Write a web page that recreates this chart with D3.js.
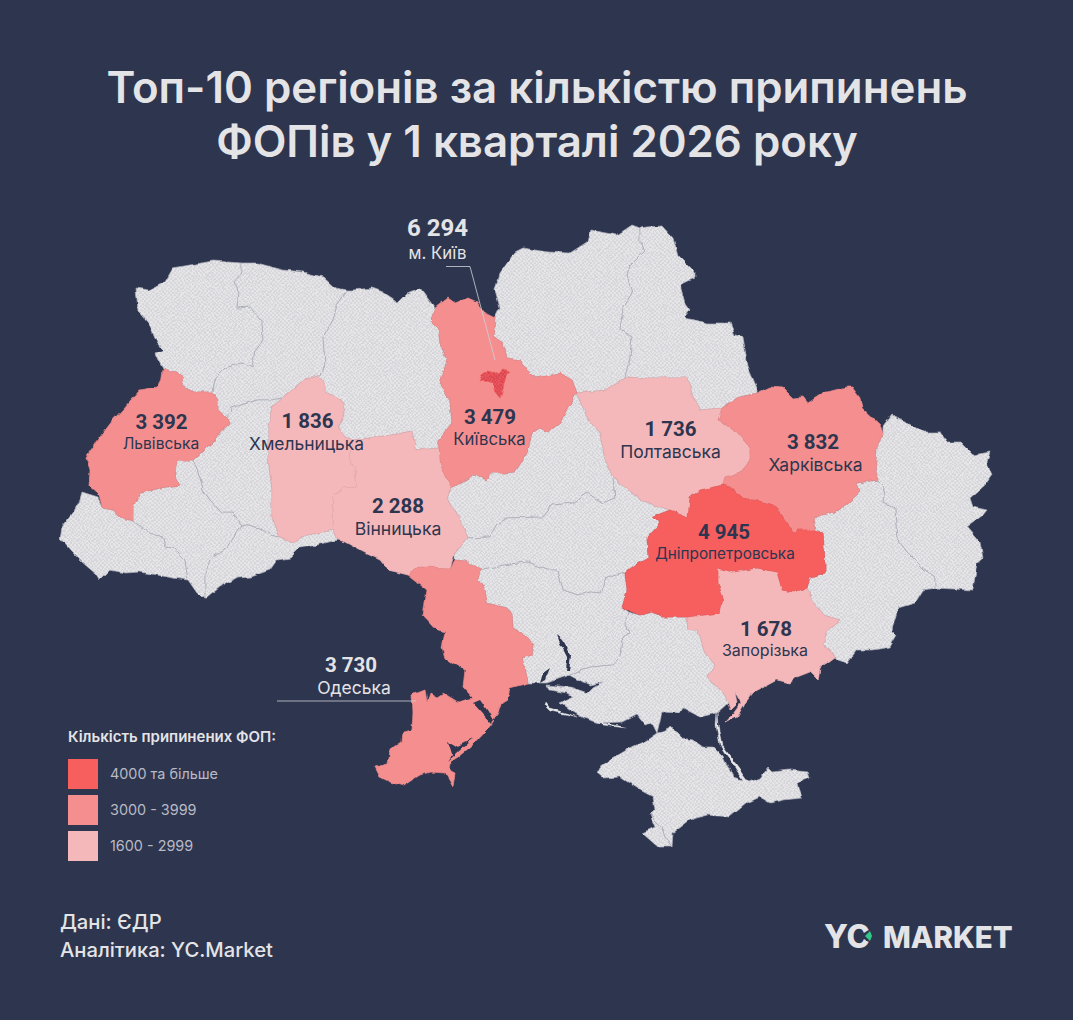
<!DOCTYPE html>
<html lang="uk">
<head>
<meta charset="utf-8">
<title>Топ-10 регіонів</title>
<script src="https://cdn.jsdelivr.net/npm/d3@7"></script>
<style>
html,body{margin:0;padding:0;background:#2d354f}
svg{display:block}
text{font-family:Inter,"Noto Sans",sans-serif}
text.val{font-family:Roboto,Inter,sans-serif}
</style>
</head>
<body>
<svg id="chart" width="1073" height="1020"></svg>
<script>
// ---------- Data: regional outlines (lon, lat) ----------
const volyn=[[23.72,51.6],[24,51.575],[24.3,51.675],[24.46,51.85],[24.8,51.8875],[25.26,51.9375],[25.84,51.9125],[25.84,51.7875],[25.68,51.675],[25.78,51.55],[25.74,51.35],[26,51.3625],[26.24,51.175],[26.26,50.95],[26.1,50.825],[26.04,50.6],[25.84,50.6625],[25.5,50.6],[25.3,50.475],[25.26,50.3875],[25.24,50.3],[24.86,50.3],[24.64,50.3875],[24.68,50.475],[24.5,50.55],[24.26,50.5875],[24.16,50.7],[24.1,50.7875],[24.26,50.825],[24.14,50.9125],[23.96,51.175],[23.76,51.325]];
const rivne=[[25.84,51.9125],[26.14,51.9125],[26.66,51.825],[27.06,51.8],[27.46,51.7375],[27.7,51.6],[27.96,51.575],[27.74,51.3875],[27.66,51.2],[27.46,50.9875],[27.5,50.6625],[27.4,50.5125],[27.34,50.5125],[27,50.4125],[26.66,50.225],[26.44,50.2],[26.14,50.2],[25.64,50.1],[25.54,49.975],[25.36,50.075],[25.36,50.2],[25.24,50.3],[25.26,50.3875],[25.3,50.475],[25.5,50.6],[25.84,50.6625],[26.04,50.6],[26.1,50.825],[26.26,50.95],[26.24,51.175],[26,51.3625],[25.74,51.35],[25.78,51.55],[25.68,51.675],[25.84,51.7875]];
const lviv=[[24.26,50.5875],[24.5,50.55],[24.68,50.475],[24.64,50.3875],[24.86,50.3],[25.24,50.3],[25.36,50.2],[25.36,50.075],[25.54,49.975],[25.6,49.9125],[25.4,49.8],[25.26,49.675],[25.14,49.6125],[24.86,49.45],[24.56,49.45],[24.5,49.2375],[24.58,49.1375],[24.2,49.1],[23.8,49.0375],[23.66,48.8625],[23.66,48.6875],[23.44,48.725],[23.24,48.825],[23.06,48.85],[22.96,49.0375],[22.78,49.1375],[22.8,49.325],[22.72,49.4875],[23,49.7375],[23.26,49.95],[23.8,50.325],[24.14,50.3625],[24.24,50.4875]];
const ternopil=[[26.44,50.2],[26.14,50.2],[25.64,50.1],[25.54,49.975],[25.6,49.9125],[25.4,49.8],[25.26,49.675],[25.14,49.6125],[24.86,49.45],[25,49.2375],[25.06,49.075],[25.2,48.95],[25.44,48.7875],[25.66,48.7875],[25.84,48.6375],[26.2,48.6],[26.4,48.5125],[26.6,48.4875],[26.44,48.7375],[26.44,49.075],[26.36,49.4875],[26.36,49.8625],[26.44,50.1125],[26.66,50.225]];
const frankivsk=[[23.66,48.6875],[23.66,48.8625],[23.8,49.0375],[24.2,49.1],[24.58,49.1375],[24.5,49.2375],[24.56,49.45],[24.86,49.45],[25,49.2375],[25.06,49.075],[25.2,48.95],[25.44,48.7875],[25.66,48.7875],[25.84,48.6375],[25.54,48.3625],[25.2,48.2],[25.1,48.0125],[25.1,47.725],[24.94,47.7875],[24.76,47.95],[24.7,48.2],[24.46,48.35],[24.3,48.3625],[24.26,48.4875],[24,48.5375]];
const zakarpattia=[[22.64,49.0375],[22.96,48.975],[23.06,48.85],[23.24,48.825],[23.44,48.725],[23.66,48.6875],[24,48.5375],[24.26,48.4875],[24.3,48.3625],[24.46,48.35],[24.7,48.2],[24.76,47.95],[24.46,47.975],[24.14,48.0125],[23.8,48.05],[23.5,48.0375],[23.2,48.075],[23,47.95],[22.94,48.0125],[22.66,48.1625],[22.4,48.325],[22.2,48.475],[22.24,48.6125],[22.46,48.7875],[22.6,48.95]];
const chernivtsi=[[25.84,48.6375],[26.2,48.6],[26.4,48.5125],[26.6,48.4875],[26.84,48.425],[27.14,48.5125],[27.66,48.575],[27.74,48.45],[27.34,48.3875],[27,48.35],[26.8,48.225],[26.54,48.2],[26.4,48.075],[26,47.9875],[25.74,47.975],[25.4,47.8625],[25.14,47.725],[25.1,47.725],[25.1,48.0125],[25.2,48.2],[25.54,48.3625]];
const khmelnytskyi=[[27.34,50.5125],[27.5,50.3875],[27.5,50.3],[27.84,50.2],[27.9,50.0375],[27.76,49.8625],[27.9,49.7375],[28.06,49.7],[28,49.45],[28.1,49.325],[28.14,49.1125],[27.86,49.1],[27.66,48.9875],[27.64,48.6125],[27.66,48.575],[27.14,48.5125],[26.84,48.425],[26.6,48.4875],[26.44,48.7375],[26.44,49.075],[26.36,49.4875],[26.36,49.8625],[26.44,50.1125],[26.66,50.225],[27,50.4125]];
const vinnytsia=[[28.06,49.7],[29.14,49.7875],[29.26,49.8],[29.3,49.575],[29.8,49.6],[29.84,49.325],[30.04,49.1125],[29.94,48.9875],[30,48.9125],[30.2,48.7],[30.36,48.475],[30.1,48.2875],[30.04,48.175],[30,48.1],[29.36,48.1125],[29.16,48.0125],[28.76,48.075],[28.6,48.2],[28.26,48.3],[27.9,48.425],[27.74,48.45],[27.66,48.575],[27.64,48.6125],[27.66,48.9875],[27.86,49.1],[28.14,49.1125],[28.1,49.325],[28,49.45]];
const zhytomyr=[[27.96,51.575],[28.06,51.575],[28.44,51.6],[28.66,51.55],[28.96,51.425],[29.14,51.5375],[29.4,51.6],[29.7,51.35],[29.6,51.2],[29.76,51.1],[29.8,50.9125],[29.94,50.7],[29.8,50.3875],[30,50.2],[30.04,49.9125],[29.76,49.7],[29.8,49.6],[29.3,49.575],[29.26,49.8],[29.14,49.7875],[28.06,49.7],[27.9,49.7375],[27.76,49.8625],[27.9,50.0375],[27.84,50.2],[27.5,50.3],[27.5,50.3875],[27.34,50.5125],[27.4,50.5125],[27.5,50.6625],[27.46,50.9875],[27.66,51.2],[27.74,51.3875]];
const kyivOblast=[[29.7,51.35],[29.96,51.475],[30.1,51.4125],[30.36,51.475],[30.54,51.425],[30.66,51.3],[30.9,51.225],[30.86,50.9875],[31.04,50.9125],[31.14,50.725],[31.4,50.7],[31.6,50.5375],[31.74,50.475],[32.2,50.5375],[32.44,50.45],[32.54,50.2875],[32.36,50.1125],[32.2,49.9125],[31.96,49.8],[31.8,49.85],[31.64,49.7875],[31.54,49.5375],[31.3,49.3],[31.04,49.2875],[30.8,49.2875],[30.74,49.2],[30.5,49.2625],[30.16,49.1375],[30.04,49.1125],[29.84,49.325],[29.8,49.6],[29.76,49.7],[30.04,49.9125],[30,50.2],[29.8,50.3875],[29.94,50.7],[29.8,50.9125],[29.76,51.1],[29.6,51.2]];
const kyivCity=[[30.58,50.4375],[30.66,50.5375],[30.86,50.5625],[30.96,50.525],[31.06,50.575],[31.2,50.55],[31.1,50.45],[31.06,50.35],[31,50.225],[30.9,50.3],[30.84,50.4125],[30.7,50.45]];
const chernihiv=[[30.9,51.225],[31,51.35],[30.9,51.575],[31,51.7875],[31.3,52.05],[31.46,52.1],[31.94,52.05],[32.4,52.0375],[32.74,52.175],[32.8,52.325],[33.14,52.2875],[33.34,52.2625],[33.64,52.3875],[33.8,52.35],[33.8,52.175],[33.9,52.075],[33.6,51.8875],[33.54,51.7625],[33.64,51.5375],[33.46,51.35],[33.4,51.075],[33.64,50.9875],[33.6,50.725],[33.5,50.4875],[33.14,50.325],[32.54,50.2875],[32.44,50.45],[32.2,50.5375],[31.74,50.475],[31.6,50.5375],[31.4,50.7],[31.14,50.725],[31.04,50.9125],[30.86,50.9875]];
const sumy=[[33.8,52.35],[33.94,52.3625],[34.24,52.375],[34.46,52.225],[34.56,52.0125],[34.9,51.8],[34.9,51.725],[34.6,51.6375],[34.7,51.4125],[34.8,51.325],[34.7,51.225],[35.14,51.1625],[35.6,51.1625],[35.7,51.0125],[35.86,50.9875],[35.96,50.6125],[36.14,50.35],[36.14,50.2875],[35.74,50.225],[35.44,50.1],[35,50.075],[34.86,50.2375],[34.74,50.475],[34.4,50.475],[33.9,50.475],[33.5,50.4875],[33.6,50.725],[33.64,50.9875],[33.4,51.075],[33.46,51.35],[33.64,51.5375],[33.54,51.7625],[33.6,51.8875],[33.9,52.075],[33.8,52.175]];
const poltava=[[32.54,50.2875],[33.14,50.325],[33.5,50.4875],[33.9,50.475],[34.4,50.475],[34.74,50.475],[34.86,50.2375],[35,50.075],[35.44,50.1],[35.36,49.95],[35.74,49.8],[36,49.6],[36,49.45],[35.8,49.3],[35.5,49.2375],[35.46,49.1375],[35,49.075],[34.8,48.975],[34.76,48.7375],[34.4,48.825],[33.8,48.95],[33.74,49.0125],[33.26,49.225],[33.1,49.475],[33,49.7625],[32.74,49.9875]];
const cherkasy=[[30.04,49.1125],[30.16,49.1375],[30.5,49.2625],[30.74,49.2],[30.8,49.2875],[31.04,49.2875],[31.3,49.3],[31.54,49.5375],[31.64,49.7875],[31.8,49.85],[31.96,49.8],[32.2,49.9125],[32.36,50.1125],[32.54,50.2875],[32.74,49.9875],[33,49.7625],[33.1,49.475],[33.26,49.225],[33.3,48.975],[33.06,48.9125],[32.74,49.0375],[32.46,48.9125],[32.06,48.8875],[31.86,48.7375],[31.14,48.725],[30.94,48.6375],[30.8,48.4875],[30.36,48.475],[30.2,48.7],[30,48.9125],[29.94,48.9875]];
const kirovohrad=[[30.36,48.475],[30.8,48.4875],[30.94,48.6375],[31.14,48.725],[31.86,48.7375],[32.06,48.8875],[32.46,48.9125],[32.74,49.0375],[33.06,48.9125],[33.3,48.975],[33.26,49.225],[33.74,49.0125],[33.8,48.95],[34.4,48.825],[34.04,48.7375],[34.2,48.6625],[33.94,48.4875],[33.96,48.225],[33.7,48.1375],[33.5,48.0375],[33.14,47.975],[33,47.7875],[32.8,47.8],[32.56,47.7625],[32.26,47.825],[32.16,48.075],[31.94,48.075],[31.54,48.175],[31.06,48.1375],[30.6,48.075],[30.3,48.1875],[30.1,48.2],[30.1,48.2875]];
const dnipro=[[34.76,48.7375],[34.4,48.825],[34.04,48.7375],[34.2,48.6625],[33.94,48.4875],[33.96,48.225],[33.7,48.1375],[33.5,48.0375],[33.54,47.825],[33.44,47.6],[33.8,47.5125],[34.06,47.55],[34.24,47.4875],[34.74,47.4875],[35.4,47.5375],[35.46,47.725],[35.36,47.9125],[35.36,48.1],[35.66,48.05],[36.14,48.1],[36.54,48.05],[36.64,47.825],[36.86,47.8],[37.14,47.85],[37.2,47.9875],[37.5,48.0375],[37.5,48.175],[37.46,48.5375],[37.3,48.575],[36.96,48.575],[36.9,48.5125],[36.5,48.8875],[36.26,48.925],[35.86,48.975],[35.6,49.1125],[35.46,49.1375],[35,49.075],[34.8,48.975]];
const kharkiv=[[36.14,50.2875],[36.4,50.3625],[36.66,50.35],[36.86,50.225],[37.06,50.2375],[37.16,50.1625],[37.46,50.2875],[37.94,50.3625],[38.04,50.3625],[38.2,50.225],[38.24,50.1],[38.6,49.8875],[38.66,49.7875],[38.54,49.6],[38.5,49.3],[38.54,49.2],[38.14,49.1625],[38.2,49.05],[37.8,48.825],[37.26,48.725],[37.3,48.575],[36.96,48.575],[36.9,48.5125],[36.5,48.8875],[36.26,48.925],[35.86,48.975],[35.6,49.1125],[35.46,49.1375],[35.5,49.2375],[35.8,49.3],[36,49.45],[36,49.6],[35.74,49.8],[35.36,49.95],[35.44,50.1],[35.74,50.225]];
const luhansk=[[38.66,49.8625],[38.84,50.0125],[38.94,49.9875],[39.46,49.8],[39.8,49.8],[39.94,49.675],[40.2,49.675],[40.46,49.5125],[40.8,49.55],[40.74,49.425],[40.84,49.2625],[40.7,49.1375],[40.4,48.975],[40.46,48.8625],[40.74,48.825],[40.66,48.7625],[40.34,48.6125],[40.6,48.425],[40.66,48.225],[40.54,48.1625],[40.46,47.825],[39.7,47.85],[39.7,47.975],[39.46,48.1],[39.14,48.3],[38.94,48.475],[38.9,48.85],[38.66,48.925],[38.7,49.1],[38.54,49.2],[38.5,49.3],[38.54,49.6],[38.66,49.7875]];
const donetsk=[[37.3,48.575],[37.26,48.725],[37.8,48.825],[38.2,49.05],[38.14,49.1625],[38.54,49.2],[38.7,49.1],[38.66,48.925],[38.9,48.85],[38.94,48.475],[39.14,48.3],[39.46,48.1],[39.7,47.975],[39.7,47.85],[39.46,47.825],[39.3,47.6625],[38.96,47.6],[38.84,47.325],[38.94,47.2625],[38.8,47.1125],[38.46,47.075],[38.14,47.075],[37.94,46.9125],[37.76,46.95],[37.7,46.9875],[37.46,47.1625],[37.54,47.3],[37.8,47.45],[37.46,47.5125],[37.26,47.675],[37.14,47.85],[37.2,47.9875],[37.5,48.0375],[37.5,48.175],[37.46,48.5375]];
const zaporizhzhia=[[35.36,48.1],[35.66,48.05],[36.14,48.1],[36.54,48.05],[36.64,47.825],[36.86,47.8],[37.14,47.85],[37.26,47.675],[37.46,47.5125],[37.8,47.45],[37.54,47.3],[37.46,47.1625],[37.7,46.9875],[37.4,46.85],[37.36,46.7],[37.2,46.8],[36.94,46.7375],[36.8,46.6625],[36.54,46.7],[36.06,46.5375],[35.9,46.4125],[35.74,46.2375],[35.5,46.1625],[35.66,46.275],[35.82,46.4125],[35.7,46.55],[35.74,46.4125],[35.6,46.325],[35.56,46.4125],[35.44,46.575],[35.24,46.6625],[35.16,46.7375],[35.3,46.8875],[35.1,47.0375],[34.96,47.325],[34.76,47.325],[34.74,47.4875],[35.4,47.5375],[35.46,47.725],[35.36,47.9125]];
const kherson=[[33.56,47.55],[33.8,47.5125],[34.06,47.55],[34.24,47.4875],[34.74,47.4875],[34.76,47.325],[34.96,47.325],[35.1,47.0375],[35.3,46.8875],[35.16,46.7375],[35.24,46.6625],[35.44,46.575],[35.56,46.4125],[35.34,46.2875],[35,46.2375],[34.66,46.35],[34.6,46.2875],[34.24,46.3],[34.14,46.0375],[34.04,46.1625],[33.9,46.1375],[33.74,46.2625],[33.46,46.175],[33,46.1625],[32.66,46.225],[32.4,46.325],[32.2,46.4125],[32.46,46.4875],[32.34,46.5375],[32,46.575],[31.94,46.6375],[32.4,46.6125],[32.76,46.5375],[32.86,46.6],[33.06,46.675],[32.8,46.6375],[32.66,46.675],[32.4,46.7625],[32.8,46.8625],[33.24,46.8875],[33.4,46.9875],[33.44,47.2],[33.56,47.2875],[33.5,47.4125]];
const mykolaiv=[[30.6,48.075],[31.06,48.1375],[31.54,48.175],[31.94,48.075],[32.16,48.075],[32.26,47.825],[32.56,47.7625],[32.8,47.8],[33,47.7875],[33.14,47.975],[33.5,48.0375],[33.54,47.825],[33.44,47.6],[33.56,47.55],[33.5,47.4125],[33.56,47.2875],[33.44,47.2],[33.4,46.9875],[33.24,46.8875],[32.8,46.8625],[32.4,46.7625],[31.94,46.6625],[31.74,46.6625],[31.56,46.6625],[31.5,46.85],[31.44,46.975],[31.64,47.0125],[31.68,47.1375],[31.5,47.2625],[31.26,47.35],[31.24,47.5125],[31.14,47.6],[30.74,47.6625],[30.7,47.825],[30.56,47.95]];
const odesa=[[29.16,48.0125],[29.36,48.1125],[30,48.1],[30.1,48.2],[30.3,48.1875],[30.6,48.075],[30.56,47.95],[30.7,47.825],[30.74,47.6625],[31.14,47.6],[31.24,47.5125],[31.26,47.35],[31.5,47.2625],[31.68,47.1375],[31.64,47.0125],[31.44,46.975],[31.5,46.85],[31.56,46.6625],[31.2,46.6],[31.14,46.45],[31.04,46.4125],[30.86,46.175],[30.74,46.075],[30.5,45.9125],[30.16,45.7375],[30,45.675],[29.98,45.575],[30.1,45.5375],[30.06,45.3625],[29.9,45.5375],[29.6,45.55],[29.4,45.5125],[29.24,45.45],[29.06,45.375],[28.8,45.425],[28.6,45.4875],[28.5,45.6125],[28.76,45.65],[28.8,45.825],[29.04,45.925],[29.06,46.05],[29.24,46.075],[29.26,46.2875],[29.24,46.5125],[29.5,46.575],[29.54,46.425],[29.6,46.5375],[29.74,46.4875],[29.86,46.5375],[30.16,46.425],[30.46,46.475],[30.26,46.6125],[30.3,46.825],[29.9,46.975],[29.84,47.1125],[29.9,47.3],[29.74,47.325],[29.46,47.5125],[29.54,47.825],[29.24,47.975]];
const crimea=[[32.94,45.5375],[33,45.6125],[33.26,45.725],[33.6,45.85],[33.94,45.95],[34.14,46.0375],[34.24,46.05],[34.44,46.1125],[34.64,45.975],[34.86,45.95],[35.06,45.8625],[35.26,45.8625],[35.46,45.7375],[35.66,45.4875],[36,45.425],[36.2,45.475],[36.36,45.6],[36.44,45.55],[36.8,45.575],[37.16,45.55],[37.2,45.475],[36.96,45.4125],[37.04,45.225],[36.66,45.2],[36.4,45.1625],[36.2,45.2375],[35.94,45.1625],[35.6,44.9875],[35.14,45.0125],[34.8,44.95],[34.46,44.7875],[34.44,44.6125],[34.3,44.7375],[34.24,44.8625],[34,45.0125],[34.1,45.075],[34.06,45.2375],[33.8,45.325],[33.4,45.4875],[33.06,45.475]];
const sevastopol=[[34,45.0125],[34.24,44.8625],[34.3,44.7375],[34.44,44.6125],[34.16,44.6125],[33.84,44.7875],[34.1,44.8625]];
const arabatSpit=[[35.34,46.2875],[35.32,46.1375],[35.4,45.8875],[35.9,45.4125],[35.98,45.425],[35.44,45.8875],[35.36,46.1375]];
const kinburnSpit=[[31.9,46.425],[32,46.35],[32.56,46.2375],[32,46.3125],[31.88,46.3875]];
const tendraSpit=[[33.06,46.1625],[33.5,46.1125],[33.5,46.1],[33.06,46.1375]];
const dniesterLiman=[[30.46,46.4125],[30.6,46.45],[30.74,46.325],[30.86,46.2],[30.82,46.1625],[30.64,46.2875]];
const sasykLagoon=[[29.96,45.925],[30.04,45.7625],[29.94,45.675],[30.12,45.775],[30.46,45.975],[30.26,45.9125],[30.16,45.85]];
const southernBug=[[32.14,47.2625],[32.26,47.2],[32.42,47.0125],[32.38,46.8],[32.32,46.8],[32.34,46.9875],[32.2,47.1625]];
const bugLiman=[[32,46.85],[31.86,46.7875],[31.8,46.6625],[31.9,46.7]];

// ---------- Data: values ----------
const regionNames=["Волинська","Рівненська","Закарпатська","Івано-Франківська","Тернопільська","Чернівецька","Житомирська","Чернігівська","Сумська","Черкаська","Кіровоградська","Миколаївська","Херсонська","Донецька","Луганська","АР Крим","Севастополь","Хмельницька","Вінницька","Полтавська","Запорізька","Львівська","Київська","Харківська","Одеська","Дніпропетровська","м. Київ"];
const regionRings=[volyn,rivne,zakarpattia,frankivsk,ternopil,chernivtsi,zhytomyr,chernihiv,sumy,cherkasy,kirovohrad,mykolaiv,kherson,donetsk,luhansk,crimea,sevastopol,khmelnytskyi,vinnytsia,poltava,zaporizhzhia,lviv,kyivOblast,kharkiv,odesa,dnipro,kyivCity];
const regionValues=[null,null,null,null,null,null,null,null,null,null,null,null,null,null,null,null,null,1836,2288,1736,1678,3392,3479,3832,3730,4945,6294];
const labelledNames=["Львівська","Хмельницька","Київська","Вінницька","Полтавська","Харківська","Дніпропетровська","Запорізька"];
const calloutNames=["м. Київ","Одеська"];
const legendThresholds=[1600,3000,4000];
const legendLabels=["4000 та більше","3000 - 3999","1600 - 2999"];
const titleLines=["Топ-10 регіонів за кількістю припинень","ФОПів у 1 кварталі 2026 року"];
const sourceLines=["Дані: ЄДР","Аналітика: YC.Market"];
const spits=[arabatSpit,kinburnSpit,tendraSpit];
const waters=[dniesterLiman,sasykLagoon,southernBug,bugLiman];

// ---------- Layout and style (separate from data) ----------
const BG="#2d354f", TXT="#e4e4e6", DARK="#2d354f", GREY="#e5e5e7", GREY_EDGE="#adafba";
const colorScale=d3.scaleThreshold().domain(legendThresholds).range([GREY,"#f4b8bb","#f58f8f","#f75f5f"]);
// name: [value x, value baseline, name x, name baseline, name font size]
const labelPos={"Львівська":[161.5,429,161,449,15.6],"Хмельницька":[307.5,428,306.5,449.5,17.4],"Київська":[490,424,489.5,445,16.7],"Вінницька":[398,513,398,535,17.6],"Полтавська":[670.5,436,670.5,458,17.5],"Харківська":[813,449,815.5,471,17.5],"Дніпропетровська":[724,539,725,559,15.3],"Запорізька":[766,636,765,656,16],"м. Київ":[437.5,236,437.5,259,16.8],"Одеська":[351,672,354,693.5,17.5]};

const lonScale=d3.scaleLinear().domain([21,42.46]).range([0,1073]);
const latScale=d3.scaleLinear().domain([55.2,42.45]).range([0,1020]);
const projection=d3.geoTransform({point(lon,lat){this.stream.point(lonScale(lon),latScale(lat));}});
const geoPath=d3.geoPath(projection);
const feature=(ring,props={})=>({type:"Feature",properties:props,geometry:{type:"Polygon",coordinates:[ring.concat([ring[0]])]}});
const fmt=d3.formatLocale({decimal:",",thousands:" ",grouping:[3],currency:["",""]}).format(",");
const valueOf=Object.fromEntries(regionNames.map((n,i)=>[n,regionValues[i]]));

const svg=d3.select("#chart");
svg.append("rect").attr("width",1073).attr("height",1020).attr("fill",BG);

// stipple patterns and a fine roughening filter for the coastline look
const defs=svg.append("defs");
const stipple=(id,bg,dot,r)=>{
  const p=defs.append("pattern").attr("id",id).attr("width",4).attr("height",4).attr("patternUnits","userSpaceOnUse");
  p.append("rect").attr("width",4).attr("height",4).attr("fill",bg);
  [[1,1],[3,3]].forEach(([x,y])=>p.append("circle").attr("cx",x).attr("cy",y).attr("r",r).attr("fill",dot));
};
stipple("dotsGrey",GREY,"#a5a7b3",0.55);
stipple("dotsCity","#f0525a","#7c2f3f",0.62);
const rough=defs.append("filter").attr("id","rough").attr("filterUnits","userSpaceOnUse")
  .attr("x",0).attr("y",0).attr("width",1073).attr("height",1020).attr("color-interpolation-filters","sRGB");
rough.append("feTurbulence").attr("type","fractalNoise").attr("baseFrequency",0.11).attr("numOctaves",2).attr("seed",4).attr("result","n");
rough.append("feDisplacementMap").attr("in","SourceGraphic").attr("in2","n").attr("scale",4.5).attr("xChannelSelector","R").attr("yChannelSelector","G");

// title
svg.append("g").selectAll("text").data(titleLines).join("text")
  .attr("x",537).attr("y",(d,i)=>103+i*54).attr("text-anchor","middle")
  .attr("fill",TXT).attr("font-size",43.8).attr("font-weight",600).text(d=>d);

// regions
const regions=regionNames.map((name,i)=>feature(regionRings[i],{name,value:regionValues[i]}));
const g=svg.append("g").attr("stroke-linejoin","round").attr("filter","url(#rough)");
g.selectAll("path.region").data(regions).join("path").attr("class","region")
  .attr("d",geoPath)
  .attr("fill",d=>d.properties.name==="м. Київ"?"url(#dotsCity)":d.properties.value==null?"url(#dotsGrey)":colorScale(d.properties.value))
  .attr("stroke",d=>d.properties.value==null?GREY_EDGE:d3.color(colorScale(d.properties.value)).darker(0.12).formatHex())
  .attr("stroke-width",0.7);
g.selectAll("path.spit").data(spits.map(r=>feature(r))).join("path").attr("class","spit")
  .attr("d",geoPath).attr("fill",GREY).attr("stroke",GREY).attr("stroke-width",0.4);
g.selectAll("path.water").data(waters.map(r=>feature(r))).join("path").attr("class","water")
  .attr("d",geoPath).attr("fill",BG);

// leader lines
const leader=[[[446,266.5],[470,266.5],[495,360]],[[277,701],[416,701]]];
svg.append("g").selectAll("path").data(leader).join("path")
  .attr("d",d3.line()).attr("fill","none").attr("stroke","#cfd0d6").attr("stroke-width",0.8);

// labels on the map
const labels=svg.append("g").attr("text-anchor","middle");
const addLabel=(n,color,valueSize)=>{
  const [vx,vy,nx,ny,nSize]=labelPos[n];
  labels.append("text").attr("class","val").attr("x",vx).attr("y",vy).attr("font-size",valueSize).attr("font-weight",700).attr("fill",color).text(fmt(valueOf[n]));
  labels.append("text").attr("x",nx).attr("y",ny).attr("font-size",nSize).attr("fill",color).text(n);
};
labelledNames.forEach(n=>addLabel(n,DARK,20.5));
calloutNames.forEach(n=>addLabel(n,TXT,n==="м. Київ"?24:20.5));

// legend
const legend=svg.append("g");
legend.append("text").attr("x",68).attr("y",742).attr("font-size",15).attr("font-weight",600).attr("fill",TXT).text("Кількість припинених ФОП:");
const legendColors=[...colorScale.range()].slice(1).reverse();
const legendRow=legend.selectAll("g").data(legendLabels).join("g").attr("transform",(d,i)=>`translate(68,${759+i*36})`);
legendRow.append("rect").attr("width",30).attr("height",30).attr("fill",(d,i)=>legendColors[i]);
legendRow.append("text").attr("x",42).attr("y",20).attr("font-size",14.4).attr("fill","#b9bac4").text(d=>d);

// source
svg.append("g").selectAll("text").data(sourceLines).join("text")
  .attr("x",60).attr("y",(d,i)=>929+i*28).attr("font-size",20.2).attr("font-weight",500).attr("fill",TXT).text(d=>d);

// logo
const logo=svg.append("g").attr("font-weight",800).attr("fill",TXT);
logo.append("text").attr("x",824).attr("y",948).attr("font-size",32).text("YC");
logo.append("circle").attr("cx",870).attr("cy",936).attr("r",6).attr("fill",BG);
logo.append("path").attr("d","M865 936 L870 931 L872 936 L870 941 Z").attr("fill","#2fcb86");
logo.append("text").attr("x",883).attr("y",948).attr("font-size",29.5).attr("letter-spacing",0).text("MARKET");
</script>
</body>
</html>
